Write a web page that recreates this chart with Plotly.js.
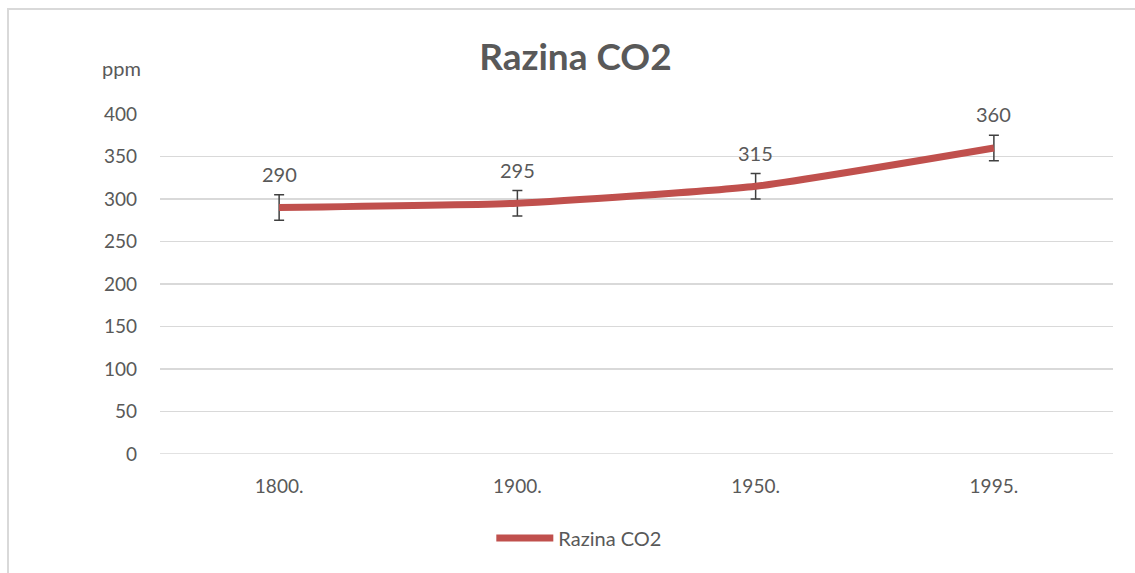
<!DOCTYPE html>
<html>
<head>
<meta charset="utf-8">
<script src="https://cdn.plot.ly/plotly-3.0.1.min.js"></script>
<style>
  html, body { margin: 0; padding: 0; background: #fff; }
  #frame { position: absolute; left: 7px; top: 8px; width: 1140px; height: 580px;
           border-left: 2px solid #d9d9d9; border-top: 2px solid #d9d9d9; box-sizing: border-box; }
  #chart { position: absolute; left: 0; top: 0; width: 1135px; height: 573px; }
</style>
</head>
<body>
<div id="frame"></div>
<div id="chart"></div>
<script>
const categories = ["1800.", "1900.", "1950.", "1995."];
const values = [290, 295, 315, 360];
const errors = [15, 15, 15, 15];
const seriesName = "Razina CO2";
const titleText = "Razina CO2";
const yUnit = "ppm";
const yTicks = [0, 50, 100, 150, 200, 250, 300, 350, 400];

const FONT = "Lato, 'Open Sans', sans-serif";
const TXT = "#595959";

const trace = {
  x: categories,
  y: values,
  type: "scatter",
  mode: "lines",
  name: seriesName,
  line: { color: "#C0504D", width: 7, shape: "spline", smoothing: 0.5 },
  error_y: { type: "data", array: errors, visible: true, color: "#404040", thickness: 1.5, width: 5 },
  hoverinfo: "skip"
};

const labelAnns = categories.map((c, i) => ({
  x: i, y: values[i] + errors[i], xref: "x", yref: "y",
  text: String(values[i]), showarrow: false, yanchor: "bottom", yshift: 7,
  font: { family: FONT, size: 20, color: TXT }
}));

const unitAnn = {
  x: (121 - 160) / 953, y: (454 - 68) / 340, xref: "paper", yref: "paper",
  xanchor: "center", yanchor: "middle",
  text: yUnit, showarrow: false,
  font: { family: FONT, size: 20, color: TXT }
};

const layout = {
  width: 1135, height: 573,
  margin: { l: 160, r: 22, t: 114, b: 119 },
  paper_bgcolor: "rgba(0,0,0,0)",
  plot_bgcolor: "rgba(0,0,0,0)",
  title: { text: "<b>" + titleText + "</b>", x: 0.507, xanchor: "center", y: 0.9, yanchor: "middle",
           yref: "container", font: { family: FONT, size: 37, color: TXT } },
  font: { family: FONT, size: 18, color: TXT },
  showlegend: true,
  legend: { orientation: "h", x: 0.44, xanchor: "center", y: -0.247, yanchor: "middle",
            itemwidth: 57,
            font: { family: FONT, size: 20, color: TXT } },
  xaxis: { type: "category", range: [-0.5, 3.5], showgrid: false, zeroline: false,
           showline: false, ticks: "", ticklabelstandoff: 19,
           tickfont: { family: FONT, size: 19, color: TXT }, fixedrange: true },
  yaxis: { range: [0, 400], tickvals: yTicks, showgrid: true, gridcolor: "#d9d9d9", gridwidth: 1.5,
           zeroline: false, showline: false, ticks: "", ticklabelstandoff: 22,
           tickfont: { family: FONT, size: 19, color: TXT }, fixedrange: true },
  shapes: [{ type: "line", xref: "paper", yref: "y", x0: 0, x1: 1, y0: 0, y1: 0,
             line: { color: "#d9d9d9", width: 1.5 } }],
  annotations: labelAnns.concat([unitAnn])
};

Plotly.newPlot("chart", [trace], layout, { displayModeBar: false, staticPlot: true });
</script>
</body>
</html>
